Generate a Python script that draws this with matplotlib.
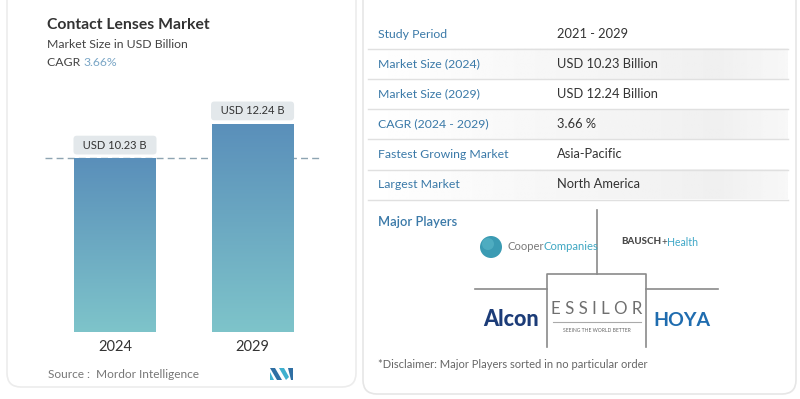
import numpy as np
import matplotlib
matplotlib.use("Agg")
import matplotlib.pyplot as plt
from matplotlib.patches import FancyBboxPatch, Circle, Polygon
from matplotlib.colors import LinearSegmentedColormap

plt.rcParams['font.family'] = ['Lato', 'DejaVu Sans']

# chart data
years = ["2024", "2029"]
sizes = [10.23, 12.24]
bar_labels = ["USD 10.23 B", "USD 12.24 B"]
cagr = "3.66%"

# table data
row_names = ["Study Period", "Market Size (2024)", "Market Size (2029)",
             "CAGR (2024 - 2029)", "Fastest Growing Market", "Largest Market"]
row_values = ["2021 - 2029", "USD 10.23 Billion", "USD 12.24 Billion",
              "3.66 %", "Asia-Pacific", "North America"]

blue_lbl = "#3a79a8"
dark = "#333333"

fig = plt.figure(figsize=(8, 3.99), dpi=100)
fig.patch.set_facecolor("white")

bg = fig.add_axes([0, 0, 1, 1], zorder=0)
bg.set_xlim(0, 800)
bg.set_ylim(399, 0)
bg.axis("off")

# cards
bg.add_patch(FancyBboxPatch((7, -20), 349, 407, boxstyle="round,pad=0,rounding_size=14",
                            fc="white", ec="#ececec", lw=1.2))
bg.add_patch(FancyBboxPatch((363, -20), 433, 414, boxstyle="round,pad=0,rounding_size=14",
                            fc="white", ec="#e6e6e6", lw=1.2))

# chain text pieces horizontally
fig.canvas.draw()
renderer = fig.canvas.get_renderer()


def chain(x, y, parts, **kw):
    for txt, props in parts:
        t = bg.text(x, y, txt, va="center", ha="left", **kw, **props)
        w = t.get_window_extent(renderer=renderer).width
        x += w


# header
bg.text(47, 25, "Contact Lenses Market", fontsize=11.3, fontweight="bold",
        color=dark, va="center")
bg.text(47, 45, "Market Size in USD Billion", fontsize=8.8, color="#444444", va="center")
chain(47, 63, [("CAGR ", dict(color="#444444")), (cagr, dict(color="#7aa6c6"))],
      fontsize=8.8)

# bar axes
px_per_unit = 17.0
top_px = 100
bot_px = 332
bax = fig.add_axes([45 / 800, (399 - bot_px) / 399, (322 - 45) / 800, (bot_px - top_px) / 399],
                   zorder=1)
bax.patch.set_visible(False)
xs = np.arange(len(years))
width = 0.596
bars = bax.bar(xs, sizes, width=width, color="none", edgecolor="none")
cmap = LinearSegmentedColormap.from_list("g", ["#5a8fba", "#7ec4ca"])
grad = np.linspace(0, 1, 256).reshape(-1, 1)
for rect in bars:
    x0 = rect.get_x()
    h = rect.get_height()
    im = bax.imshow(grad, extent=[x0, x0 + rect.get_width(), 0, h], aspect="auto",
                    cmap=cmap, zorder=2)
    im.set_clip_path(rect)
bax.axhline(sizes[0], color="#8ea4b2", lw=1, ls=(0, (5, 3)), zorder=1)
for i, (v, lbl) in enumerate(zip(sizes, bar_labels)):
    bax.annotate("  " + lbl + "  ", (xs[i], v), xytext=(0, 13), textcoords="offset pixels",
                 ha="center", va="center", fontsize=8, color=dark,
                 bbox=dict(boxstyle="round,pad=0.35,rounding_size=0.3", fc="#e3e8eb", ec="none"))
bax.set_xlim(-0.509, 1.505)
bax.set_ylim(0, (bot_px - top_px) / px_per_unit)
bax.set_xticks(xs)
bax.set_xticklabels(years, fontsize=10.5, color=dark)
bax.tick_params(axis="x", length=0, pad=6)
bax.set_yticks([])
for s in bax.spines.values():
    s.set_visible(False)

# source + logo
bg.text(48, 375, "Source :  Mordor Intelligence", fontsize=8.6, color="#777777", va="center")
bg.add_patch(Polygon([(270, 368), (275, 368), (282, 380), (277, 380)], fc="#2f6fa3"))
bg.add_patch(Polygon([(270, 372), (274, 380), (270, 380)], fc="#3fb0cf"))
bg.add_patch(Polygon([(279, 368), (284, 368), (289, 377), (286, 380)], fc="#3fb0cf"))
bg.add_patch(Polygon([(288, 368), (293, 368), (293, 380), (291, 380)], fc="#2f6fa3"))

# table
line_ys = [48.5, 79, 109, 139, 169.5, 199.5]
row_ys = [34, 64, 94, 124, 154, 184]
hgrad = np.concatenate([np.linspace(1.0, 0.935, 200), np.linspace(0.935, 0.97, 40)]).reshape(1, -1)
for i, (name, val, y) in enumerate(zip(row_names, row_values, row_ys)):
    if i % 2 == 1:
        bg.imshow(hgrad, extent=[368, 788, line_ys[i], line_ys[i - 1]], cmap="gray",
                  vmin=0, vmax=1, aspect="auto", zorder=1, alpha=0.9)
    bg.text(378, y, name, fontsize=8.8, color=blue_lbl, va="center", zorder=3)
    bg.text(557, y, val, fontsize=9.3, color=dark, va="center", zorder=3)
for ly in line_ys:
    bg.plot([368, 788], [ly, ly], color="#e0e0e0", lw=1, zorder=2)
bg.set_xlim(0, 800)
bg.set_ylim(399, 0)

# major players
bg.text(378, 222, "Major Players", fontsize=9.3, color=blue_lbl, va="center",
        fontweight="semibold")
gcol = "#8a8a8a"
bg.plot([597, 597], [210, 274], color=gcol, lw=1.2)
bg.plot([547, 547, 646, 646], [347, 274, 274, 347], color=gcol, lw=1.2)
bg.plot([475, 547], [289, 289], color=gcol, lw=1.2)
bg.plot([646, 718], [289, 289], color=gcol, lw=1.2)
bg.plot([553, 641], [322, 322], color="#aaaaaa", lw=0.8)

bg.add_patch(Circle((491, 247), 11, fc="#3b9bb3", ec="none"))
bg.add_patch(Circle((488, 244), 6, fc="#5cb8c9", ec="none", alpha=0.6))
chain(507, 247, [("Cooper", dict(color="#7a7a7a")), ("Companies", dict(color="#3fa7c2"))],
      fontsize=8.1)
chain(621, 242, [("BAUSCH", dict(color="#4a4a4a", fontweight="black", fontsize=7)),
                 ("+", dict(color="#4a4a4a", fontsize=7)),
                 ("Health", dict(color="#3fa7c7", fontsize=7.6))])
bg.text(511, 319, "Alcon", fontsize=15.5, fontweight="black", color="#1c3c78",
        ha="center", va="center")
bg.text(597, 309, "E S S I L O R", fontsize=12.2, color="#6f6f6f", ha="center", va="center")
bg.text(597, 331, "SEEING THE WORLD BETTER", fontsize=3.6, color="#666666",
        ha="center", va="center")
bg.text(682, 320, "HOYA", fontsize=14, fontweight="bold", color="#1f6caf",
        ha="center", va="center")

bg.text(378, 364, "*Disclaimer: Major Players sorted in no particular order", fontsize=8,
        color="#666666", va="center")

fig.savefig("out.png", dpi=100, facecolor="white")
